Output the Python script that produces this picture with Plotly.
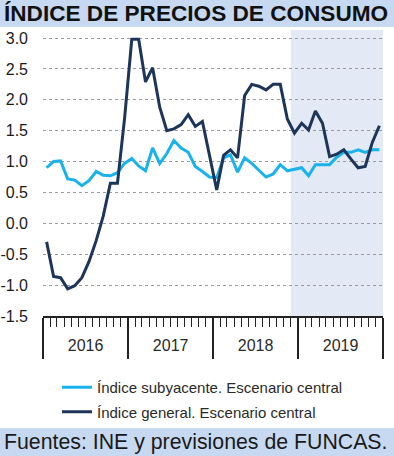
import plotly.graph_objects as go

# ---- data -------------------------------------------------------------
months = [f"{y}-{m:02d}" for y in range(2016, 2020) for m in range(1, 13)]

general = [-0.30, -0.86, -0.88, -1.06, -1.01, -0.88, -0.62, -0.28, 0.12, 0.65, 0.65, 1.70,
           2.98, 2.98, 2.29, 2.52, 1.88, 1.50, 1.53, 1.60, 1.76, 1.57, 1.65, 1.12,
           0.54, 1.10, 1.19, 1.06, 2.07, 2.25, 2.22, 2.16, 2.25, 2.25, 1.69, 1.46,
           1.62, 1.51, 1.82, 1.62, 1.08, 1.12, 1.19, 1.04, 0.90, 0.92, 1.31, 1.58]

subyacente = [0.90, 1.00, 1.01, 0.72, 0.70, 0.61, 0.69, 0.84, 0.78, 0.77, 0.82, 0.97,
              1.05, 0.93, 0.85, 1.22, 0.97, 1.13, 1.34, 1.22, 1.15, 0.92, 0.84, 0.75,
              0.74, 1.06, 1.11, 0.83, 1.06, 0.97, 0.86, 0.75, 0.80, 0.95, 0.85, 0.88,
              0.90, 0.77, 0.95, 0.95, 0.95, 1.07, 1.15, 1.15, 1.19, 1.15, 1.19, 1.19]

forecast_start = "2018-12-01"
x_start, x_end = "2016-01-01", "2020-01-01"
y_ticks = [-1.5, -1.0, -0.5, 0.0, 0.5, 1.0, 1.5, 2.0, 2.5, 3.0]
y_tick_labels = [f"{v:.1f}" for v in y_ticks]

title_text = "ÍNDICE DE PRECIOS DE CONSUMO"
source_text = "Fuentes: INE y previsiones de FUNCAS."
name_sub = "Índice subyacente. Escenario central"
name_gen = "Índice general. Escenario central"

# ---- layout geometry (px) ---------------------------------------------
W, H = 394, 456
ML, MR, MT, MB = 43, 11, 30, 140
PW, PH = W - ML - MR, H - MT - MB


def px_x(px):
    return (px - ML) / PW


def px_y(py):
    return (H - MB - py) / PH


FONT = "Liberation Sans, Arial, sans-serif"

fig = go.Figure()
fig.add_trace(go.Scatter(
    x=months, y=subyacente, name=name_sub, mode="lines",
    xperiod="M1", xperiodalignment="middle", legendgroup="a",
    line=dict(color="#19b2ec", width=3)))
fig.add_trace(go.Scatter(
    x=months, y=general, name=name_gen, mode="lines",
    xperiod="M1", xperiodalignment="middle", legendgroup="b",
    line=dict(color="#1d3558", width=3)))

fig.add_vrect(x0=forecast_start, x1=x_end, fillcolor="#e3eaf5", line_width=0, layer="below")

# header & footer bars
fig.add_shape(type="rect", xref="paper", yref="paper",
              x0=px_x(0), x1=px_x(W), y0=px_y(27), y1=px_y(0),
              fillcolor="#c6d9f0", line_width=0, layer="below")
fig.add_shape(type="rect", xref="paper", yref="paper",
              x0=px_x(0), x1=px_x(W), y0=px_y(H), y1=px_y(428),
              fillcolor="#c6d9f0", line_width=0, layer="below")

fig.add_annotation(text=f"<b>{title_text}</b>", xref="paper", yref="paper",
                   x=px_x(2), y=px_y(13.5), xanchor="left", yanchor="middle",
                   showarrow=False, font=dict(family=FONT, size=22.6, color="#111111"))
fig.add_annotation(text=source_text, xref="paper", yref="paper",
                   x=px_x(2), y=px_y(442), xanchor="left", yanchor="middle",
                   showarrow=False, font=dict(family=FONT, size=21.3, color="#1a1a1a"))

fig.update_layout(
    width=W, height=H,
    margin=dict(l=ML, r=MR, t=MT, b=MB, autoexpand=False),
    paper_bgcolor="white", plot_bgcolor="white",
    showlegend=True,
    legend=dict(xref="container", yref="container",
                x=57 / W, y=1 - 371 / H, xanchor="left", yanchor="top",
                bgcolor="rgba(0,0,0,0)", tracegroupgap=2,
                font=dict(family=FONT, size=15, color="#2a2a2a")),
    xaxis=dict(type="date", range=[x_start, x_end], automargin=False,
               tick0=x_start, dtick="M12", tickformat="%Y",
               ticklabelmode="period", tickangle=0,
               ticks="outside", ticklen=41, tickwidth=1.5, tickcolor="#222222",
               ticklabelstandoff=-27,
               showline=True, linecolor="#222222", linewidth=2,
               showgrid=False, zeroline=False,
               minor=dict(ticks="outside", ticklen=9, tickwidth=1.2, tickcolor="#222222",
                          dtick="M1", tick0=x_start, showgrid=False),
               tickfont=dict(family=FONT, size=16, color="#2a2a2a")),
    yaxis=dict(range=[-1.5, 3.13], tickvals=y_ticks, ticktext=y_tick_labels,
               automargin=False,
               showgrid=True, gridcolor="#9a9a9a", griddash="dot", gridwidth=1,
               zeroline=False, showline=False, ticks="",
               ticklabelstandoff=14,
               tickfont=dict(family=FONT, size=16, color="#1a1a1a")),
)

fig.write_html("out.html", config={"displayModeBar": False},
               post_script="document.body.style.margin='0';")
